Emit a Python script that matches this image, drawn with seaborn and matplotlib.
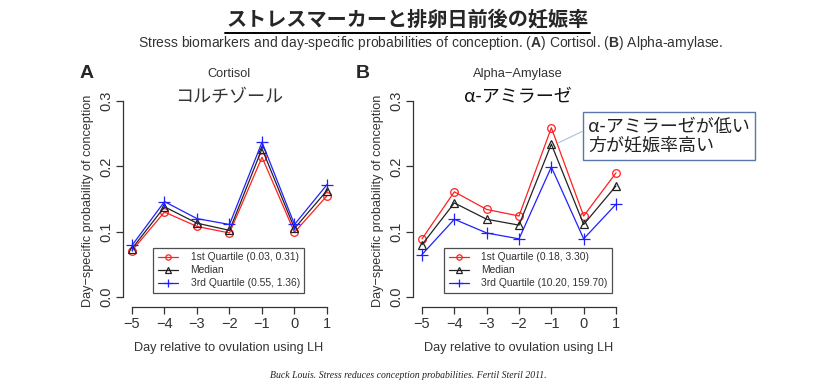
import numpy as np
import pandas as pd
import matplotlib
matplotlib.use('Agg')
import matplotlib.pyplot as plt
import seaborn as sns

days = [-5, -4, -3, -2, -1, 0, 1]

cort_q1 = [0.071, 0.130, 0.108, 0.098, 0.214, 0.099, 0.155]
cort_med = [0.074, 0.138, 0.113, 0.102, 0.227, 0.105, 0.163]
cort_q3 = [0.079, 0.146, 0.120, 0.111, 0.237, 0.111, 0.172]

amy_q1 = [0.089, 0.161, 0.134, 0.124, 0.259, 0.124, 0.190]
amy_med = [0.080, 0.144, 0.119, 0.110, 0.234, 0.111, 0.170]
amy_q3 = [0.065, 0.119, 0.098, 0.089, 0.199, 0.089, 0.142]

cort_labels = ['1st Quartile (0.03, 0.31)', 'Median', '3rd Quartile (0.55, 1.36)']
amy_labels = ['1st Quartile (0.18, 3.30)', 'Median', '3rd Quartile (10.20, 159.70)']

sns.set_style('white')
plt.rcParams['font.family'] = ['Liberation Sans', 'Noto Sans CJK JP', 'DejaVu Sans']
plt.rcParams['mathtext.fontset'] = 'custom'
plt.rcParams['mathtext.rm'] = 'Liberation Sans'
plt.rcParams['mathtext.bf'] = 'Liberation Sans:bold'

W, H = 823, 384
fig = plt.figure(figsize=(W / 100, H / 100), dpi=100)
JP = ['Noto Sans CJK JP', 'DejaVu Sans']


def px_axes(l, r, t, b):
    return fig.add_axes([l / W, 1 - b / H, (r - l) / W, (b - t) / H])


styles = [('#ff2020', 'o'), ('#222222', '^'), ('#2020ff', '+')]


def panel(ax, series, labels, x0px, x1px, left_px, right_px, leg_x):
    ppu = (x1px - x0px) / 6
    for (c, m), vals, lab in zip(styles, series, labels):
        df = pd.DataFrame({'day': days, 'p': vals})
        sns.lineplot(data=df, x='day', y='p', ax=ax, color=c, lw=0.9,
                     marker=m, markersize=5.5 if m != '+' else 8,
                     markerfacecolor='none', markeredgecolor=c,
                     markeredgewidth=0.9, label=lab)
    ax.set_xlim(-5 - (x0px - left_px) / ppu, 1 + (right_px - x1px) / ppu)
    ax.set_ylim(-10 / 653, 0.3 + 6 / 653)
    ax.set_xticks(days)
    ax.set_xticklabels([str(d).replace('-', '\u2212') for d in days])
    ax.set_yticks([0.0, 0.1, 0.2, 0.3])
    ax.set_yticklabels(['0.0', '0.1', '0.2', '0.3'], rotation=90, va='center')
    for s in ['top', 'right']:
        ax.spines[s].set_visible(False)
    ax.spines['left'].set_bounds(0, 0.3)
    ax.spines['bottom'].set_bounds(-5, 1)
    for s in ['left', 'bottom']:
        ax.spines[s].set_color('#333333')
        ax.spines[s].set_linewidth(0.9)
    ax.tick_params(axis='both', direction='out', length=5, width=0.9,
                   color='#333333', labelsize=10.5, labelcolor='#333333', pad=2,
                   bottom=True, left=True)
    ax.set_xlabel('Day relative to ovulation using LH', fontsize=9.1,
                  color='#333333', labelpad=8)
    ax.set_ylabel('Day\u2212specific probability of conception', fontsize=9.1,
                  color='#333333', labelpad=4)
    leg = ax.legend(loc='lower left', bbox_to_anchor=(leg_x, 0.066),
                    fontsize=7.4, frameon=True, fancybox=False,
                    edgecolor='#222222', handlelength=2.0, borderpad=0.45,
                    labelspacing=0.3, handletextpad=1.2, markerscale=0.7,
                    borderaxespad=0)
    leg.get_frame().set_linewidth(0.9)
    for t in leg.get_texts():
        t.set_color('#333333')


axA = px_axes(123, 335, 95, 307)
panel(axA, [cort_q1, cort_med, cort_q3], cort_labels, 132, 327, 123, 335, 0.1415)
axB = px_axes(413, 625, 95, 307)
panel(axB, [amy_q1, amy_med, amy_q3], amy_labels, 422, 616, 413, 625, 0.146)

# panel letters and titles
fig.text(87 / W, 1 - 74 / H, 'A', fontsize=14, fontweight='bold', ha='center', va='center')
fig.text(363 / W, 1 - 74 / H, 'B', fontsize=14, fontweight='bold', ha='center', va='center')
fig.text(229 / W, 1 - 74 / H, 'Cortisol', fontsize=9.2, color='#333333', ha='center', va='center')
fig.text(518 / W, 1 - 74 / H, 'Alpha\u2212Amylase', fontsize=9.3, color='#333333', ha='center', va='center')
fig.text(229 / W, 1 - 97 / H, 'コルチゾール', fontsize=13, family=JP, color='#333333',
         ha='center', va='center')
fig.text(518 / W, 1 - 97 / H, 'α-アミラーゼ', fontsize=13, family=JP, color='#111111',
         ha='center', va='center')

# main title with underline
fig.text(408 / W, 1 - 19 / H, 'ストレスマーカーと排卵日前後の妊娠率', fontsize=14.5,
         fontweight='bold', family=JP, ha='center', va='center')
fig.add_artist(plt.Line2D([225 / W, 590 / W], [1 - 33 / H, 1 - 33 / H], color='black', lw=1.4))

fig.text(431 / W, 1 - 43 / H,
         r'Stress biomarkers and day-specific probabilities of conception. ($\mathbf{A}$) Cortisol. ($\mathbf{B}$) Alpha-amylase.',
         fontsize=10, color='#333333', ha='center', va='center')

fig.text(408 / W, 1 - 375 / H,
         'Buck Louis. Stress reduces conception probabilities. Fertil Steril 2011.',
         fontsize=7, family='Liberation Serif', style='italic', color='#222222',
         ha='center', va='center')

# callout
axB.annotate('α-アミラーゼが低い\n方が妊娠率高い', xy=(-0.78, 0.236), xycoords='data',
             xytext=(588, H - 136), textcoords='figure pixels',
             fontsize=13, family=JP, color='#222222', ha='left', va='center',
             linespacing=1.05,
             bbox=dict(boxstyle='square,pad=0.3', fc='white', ec='#5a78aa', lw=1),
             arrowprops=dict(arrowstyle='-', color='#a8c0e0', lw=0.8,
                             relpos=(0, 0.7), shrinkA=0, shrinkB=0))

fig.savefig('out.png', dpi=100)
